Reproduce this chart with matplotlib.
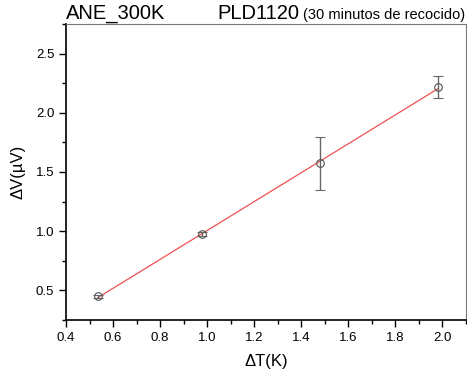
import numpy as np
import matplotlib.pyplot as plt
from matplotlib.ticker import MultipleLocator

plt.rcParams['font.family'] = ['Liberation Sans', 'DejaVu Sans']

# Data
delta_t = [0.536, 0.979, 1.478, 1.983]
delta_v = [0.449, 0.975, 1.574, 2.218]
v_err = [0.012, 0.015, 0.225, 0.095]

# Linear fit
slope, intercept = np.polyfit(delta_t, delta_v, 1)
fit_x = np.array([delta_t[0], delta_t[-1]])
fit_y = slope * fit_x + intercept

fig = plt.figure(figsize=(4.67, 3.76), dpi=100)
ax = fig.add_axes([66 / 467, 56 / 376, 400 / 467, 296 / 376])

ax.plot(fit_x, fit_y, color='#f05050', lw=0.9, zorder=2)
ax.errorbar(delta_t, delta_v, yerr=v_err, fmt='o', ms=5.5, mfc='none',
            mec='#555555', mew=0.8, ecolor='#666666', elinewidth=1.0,
            capsize=3.5, capthick=1.0, zorder=3)

ax.set_xlim(0.4, 2.1)
ax.set_ylim(0.25, 2.75)
ax.xaxis.set_major_locator(MultipleLocator(0.2))
ax.xaxis.set_minor_locator(MultipleLocator(0.1))
ax.yaxis.set_major_locator(MultipleLocator(0.5))
ax.yaxis.set_minor_locator(MultipleLocator(0.25))
ax.tick_params(which='major', direction='out', length=5, width=1, labelsize=9.5)
ax.tick_params(which='minor', direction='out', length=3, width=1)

for s in ['left', 'bottom']:
    ax.spines[s].set_linewidth(1.2)
for s in ['top', 'right']:
    ax.spines[s].set_color('#777777')
    ax.spines[s].set_linewidth(0.8)

ax.set_xlabel('ΔT(K)', fontsize=12, labelpad=7)
ax.set_ylabel('ΔV(µV)', fontsize=12, labelpad=7)

fig.text(66 / 467, 1 - 19 / 376, 'ANE_300K', fontsize=14.5, va='baseline', ha='left')
fig.text(217 / 467, 1 - 19 / 376, 'PLD1120', fontsize=14.5, va='baseline', ha='left')
fig.text(303 / 467, 1 - 19 / 376, '(30 minutos de recocido)', fontsize=10.5,
         va='baseline', ha='left')

fig.savefig('out.png', dpi=100)
